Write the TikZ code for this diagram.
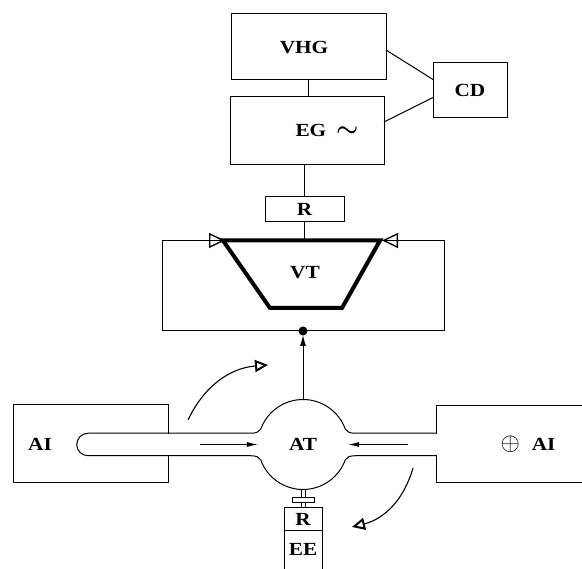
\documentclass[tikz,border=0pt]{standalone}
\usepackage{fontspec}
\setmainfont{Liberation Serif}[FakeStretch=1.15]
\usetikzlibrary{arrows.meta,calc}

\begin{document}
\begin{tikzpicture}[x=1pt,y=1pt,
    bloc/.style={draw, line width=1pt, inner sep=0pt, outer sep=0pt},
    lbl/.style={font=\bfseries\fontsize{18.5}{18.5}\selectfont, inner sep=0pt},
    trait/.style={line width=1pt},
    fleche/.style={line width=0.8pt, -{Latex[length=11pt,width=5pt]}},
    courbe/.style={line width=1.1pt, -{Triangle[open,length=13pt,width=12pt,line width=2pt]}}]
        \useasboundingbox (0,0) rectangle (582,569);
        \clip (0,0) rectangle (582,569);
        % Generateurs en haut
        \node[bloc, minimum width=155, minimum height=66] (VHG) at (308.5,522) {};
        \node[lbl] (VHGtxt) at (304,521) {VHG};
        \node[bloc, minimum width=154, minimum height=68] (EG) at (307,438) {};
        \node[lbl] (EGtxt) at (327,439) {EG\hspace{10pt}{\fontsize{26}{26}\selectfont\boldmath$\sim$}};
        \node[bloc, minimum width=74, minimum height=55] (CD) at (470,478.5) {};
        \node[lbl] (CDtxt) at (470,479) {CD};
        \draw[trait] (VHG.south) -- (VHG.south |- EG.north);
        \draw[trait] ($(VHG.east)+(0,-3)$) -- ($(CD.west)+(0,11)$);
        \draw[trait] ($(EG.east)+(0,9)$) -- ($(CD.west)+(0,-7)$);
        % Resistance
        \node[bloc, minimum width=79, minimum height=25] (R) at (304.5,359.5) {};
        \node[lbl] (Rtxt) at (304.5,359.5) {R};
        \draw[trait] (R.north) -- (R.north |- EG.south);
        % Cadre et trapeze VT
        \node[bloc, minimum width=282, minimum height=90.5] (VTbox) at (303,283.25) {};
        \draw[trait] (R.south) -- (R.south |- VTbox.north);
        \coordinate (tl) at (223,328.5);
        \coordinate (bl) at (270,261);
        \coordinate (br) at (342,261);
        \coordinate (tr) at (380,328.5);
        \draw[line width=4pt, line join=miter] (tl) -- (bl) -- (br) -- (tr) -- cycle;
        \node[lbl] (VTtxt) at (305,296) {VT};
        \draw[line width=1pt, -{Triangle[open,length=16pt,width=15pt,line width=1.4pt]}] (VTbox.north west) -- ($(tl)+(2,0)$);
        \draw[line width=1pt, -{Triangle[open,length=16pt,width=15pt,line width=1.4pt]}] (VTbox.north east) -- ($(tr)+(2,0)$);
        \fill (VTbox.south) circle (4.5);
        % Boites AI
        \node[bloc, minimum width=155, minimum height=78] (AIg) at (90.5,125) {};
        \node[lbl] (AIgtxt) at (40,124.5) {AI};
        \node[bloc, minimum width=170, minimum height=77] (AId) at (521,124.5) {};
        \node[lbl] (AIdtxt) at (528,124.5) {{\fontsize{24}{24}\selectfont$\oplus$}\hspace{12pt}AI};
        % Chambre AT et tubes
        \node[circle, minimum size=90, inner sep=0pt] (AT) at (303,124.5) {};
        \fill[white] (165,113.6) rectangle (439,135.4);
        \fill[white] (AT) circle (44.5);
        \draw[trait] (436,135.75) -- (355,135.75) .. controls (349,135.75) and (347,137.5) .. (345.3,139.9)
            arc[start angle=20, end angle=160, radius=45]
            .. controls (259,137.5) and (257,135.75) .. (251,135.75) -- (88,135.75)
            arc[start angle=90, end angle=270, radius=11.25]
            -- (251,113.25) .. controls (257,113.25) and (259,111.5) .. (260.7,109.1)
            arc[start angle=200, end angle=340, radius=45]
            .. controls (347,111.5) and (349,113.25) .. (355,113.25) -- (436,113.25);
        \node[lbl] (ATtxt) at (303,124.5) {AT};
        \draw[fleche] (200,124.5) -- (AT.west);
        \draw[fleche] (408,124.5) -- (AT.east);
        \draw[line width=1pt, -{Latex[length=11pt,width=6pt]}] (AT.north) -- ($(VTbox.south)+(0,-4)$);
        % Sortie vers le bas
        \node[bloc, minimum width=38, minimum height=23] (R2) at (303,49.5) {};
        \node[lbl] (R2txt) at (303,49.5) {R};
        \node[bloc, minimum width=38, minimum height=40] (EE) at (303,18) {};
        \node[lbl] (EEtxt) at (303,20) {EE};
        \draw[trait] (301,79.5) -- (301,61) (305,79.5) -- (305,61);
        \draw[trait, fill=white] (292,66) rectangle (314,71.5);
        % Fleches courbes
        \coordinate (dep1) at (188,149);
        \coordinate (arr1) at (268,204);
        \coordinate (dep2) at (413,101);
        \coordinate (arr2) at (352,42);
        \draw[courbe] (dep1) to[bend left=30] (arr1);
        \draw[courbe] (dep2) to[bend left=30] (arr2);
    \end{tikzpicture}
\end{document}
